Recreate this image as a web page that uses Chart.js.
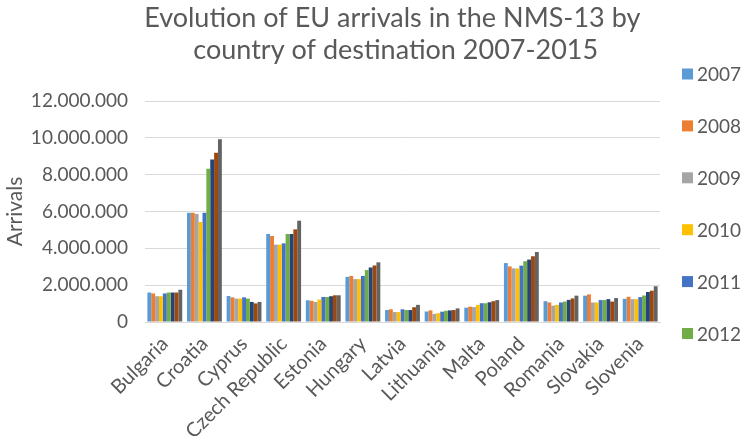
<!DOCTYPE html>
<html>
<head>
<meta charset="utf-8">
<script src="https://cdn.jsdelivr.net/npm/chart.js@4/dist/chart.umd.min.js"></script>
<style>
  body { margin: 0; background: #fff; }
  #wrap { width: 743px; height: 436px; }
</style>
</head>
<body>
<div id="wrap"><canvas id="grafico" width="743" height="436"></canvas></div>
<script>
const paises = ["Bulgaria", "Croatia", "Cyprus", "Czech Republic", "Estonia", "Hungary", "Latvia",
  "Lithuania", "Malta", "Poland", "Romania", "Slovakia", "Slovenia"];
const anios = ["2007", "2008", "2009", "2010", "2011", "2012", "2013", "2014", "2015"];
const colores = ["#5B9BD5", "#ED7D31", "#A5A5A5", "#FFC000", "#4472C4", "#70AD47", "#264478", "#9E480E", "#636363"];

const llegadas2007 = [1600000, 5930000, 1410000, 4780000, 1180000, 2450000, 650000, 570000, 780000, 3200000, 1130000, 1430000, 1260000];
const llegadas2008 = [1550000, 5930000, 1340000, 4670000, 1150000, 2500000, 690000, 630000, 830000, 3020000, 1060000, 1500000, 1370000];
const llegadas2009 = [1400000, 5870000, 1270000, 4200000, 1090000, 2330000, 540000, 440000, 810000, 2910000, 890000, 1060000, 1240000];
const llegadas2010 = [1400000, 5430000, 1270000, 4200000, 1220000, 2330000, 540000, 480000, 930000, 2910000, 930000, 1060000, 1240000];
const llegadas2011 = [1550000, 5930000, 1340000, 4270000, 1360000, 2500000, 690000, 560000, 1020000, 3060000, 1060000, 1190000, 1350000];
const llegadas2012 = [1600000, 8320000, 1270000, 4780000, 1360000, 2820000, 650000, 610000, 1020000, 3300000, 1110000, 1190000, 1440000];
const llegadas2013 = [1600000, 8830000, 1090000, 4780000, 1400000, 2960000, 650000, 630000, 1070000, 3390000, 1200000, 1240000, 1630000];
const llegadas2014 = [1600000, 9190000, 1010000, 5030000, 1450000, 3070000, 800000, 650000, 1130000, 3570000, 1280000, 1110000, 1700000];
const llegadas2015 = [1750000, 9920000, 1090000, 5500000, 1450000, 3240000, 930000, 740000, 1190000, 3800000, 1430000, 1300000, 1940000];

const series = [llegadas2007, llegadas2008, llegadas2009, llegadas2010, llegadas2011,
  llegadas2012, llegadas2013, llegadas2014, llegadas2015];

const fuente = "Lato, 'Liberation Sans', sans-serif";
const gris = "#595959";

function formatoMiles(v) {
  return String(v).replace(/\B(?=(\d{3})+(?!\d))/g, ".");
}

// leyenda a la derecha, solo se ven 6 años como en el original
const leyendaPlugin = {
  id: "leyendaDerecha",
  afterDraw(chart) {
    const ctx = chart.ctx;
    ctx.save();
    ctx.font = "19px " + fuente;
    ctx.textBaseline = "middle";
    ctx.textAlign = "left";
    for (let i = 0; i < 6; i++) {
      const ds = chart.data.datasets[i];
      const y = 74 + i * 51.9;
      ctx.fillStyle = ds.backgroundColor;
      ctx.fillRect(682, y - 5.5, 11, 11);
      ctx.fillStyle = gris;
      ctx.fillText(ds.label, 697, y + 1);
    }
    ctx.restore();
  }
};

new Chart(document.getElementById("grafico"), {
  type: "bar",
  data: {
    labels: paises,
    datasets: anios.map((a, i) => ({
      label: a,
      data: series[i],
      backgroundColor: colores[i],
      borderWidth: 0,
      categoryPercentage: 0.88,
      barPercentage: 1.0
    }))
  },
  options: {
    responsive: false,
    animation: false,
    plugins: {
      legend: { display: false },
      tooltip: { enabled: false },
      title: {
        display: true,
        // espacios delante para centrar el título sobre todo el lienzo
        text: ["      Evolution of EU arrivals in the NMS-13 by", "       country of destination 2007-2015"],
        color: gris,
        font: { family: fuente, size: 27, weight: "normal", lineHeight: 32 / 27 },
        padding: { top: 2, bottom: 35 }
      }
    },
    scales: {
      x: {
        grid: { display: false },
        border: { display: true, color: "#D9D9D9" },
        ticks: {
          color: gris,
          font: { family: fuente, size: 20 },
          minRotation: 45,
          maxRotation: 45,
          padding: 2
        },
        afterFit(scale) { scale.height = 114; }
      },
      y: {
        min: 0,
        max: 12000000,
        grid: { color: "#D9D9D9", drawTicks: false },
        border: { display: false },
        ticks: {
          stepSize: 2000000,
          color: gris,
          padding: 17,
          font: { family: fuente, size: 19 },
          callback: v => formatoMiles(v)
        },
        title: {
          display: true,
          text: "Arrivals",
          color: gris,
          font: { family: fuente, size: 21 },
          padding: { top: 3, bottom: 0 }
        },
        afterFit(scale) { scale.width = 145; }
      },
      // eje vacío a la derecha, deja sitio para la leyenda
      hueco: {
        position: "right",
        grid: { display: false },
        border: { display: false },
        ticks: { display: false },
        afterFit(scale) { scale.width = 83; }
      }
    }
  },
  plugins: [leyendaPlugin]
});
</script>
</body>
</html>
